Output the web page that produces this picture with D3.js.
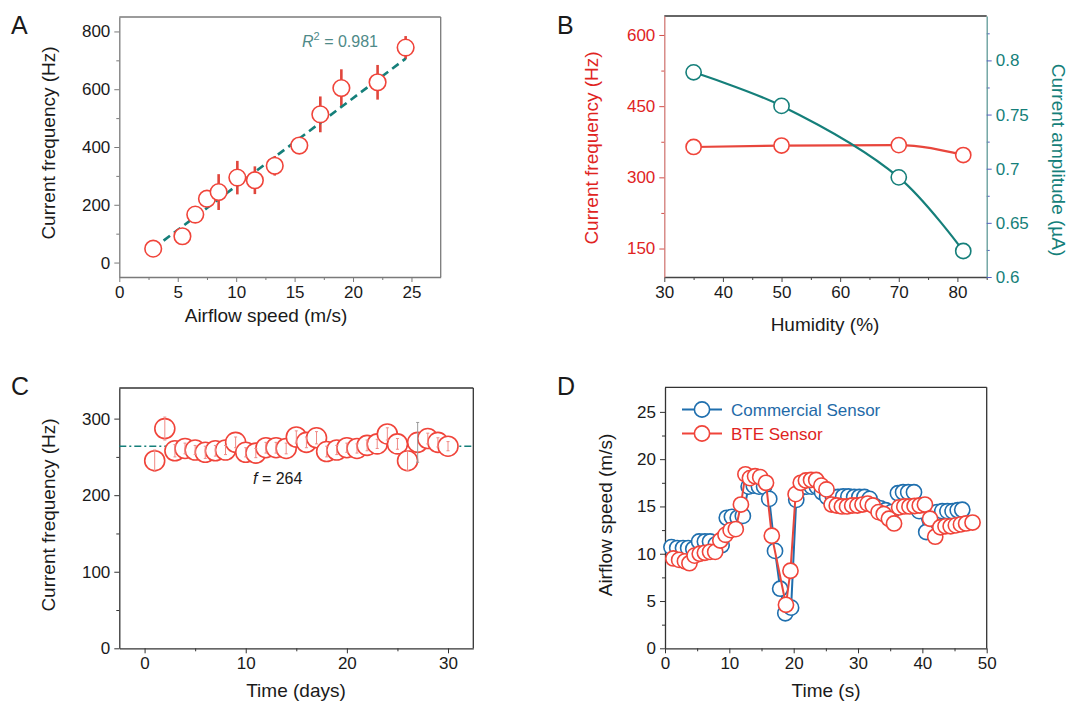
<!DOCTYPE html>
<html>
<head>
<meta charset="utf-8">
<script src="https://cdn.jsdelivr.net/npm/d3@7"></script>
<style>
	body { margin: 0; background: #fff; }
	svg text { font-family: "Liberation Sans", Arial, sans-serif; }
</style>
</head>
<body>
<svg id="fig" width="1072" height="711"></svg>
<script>
// ---- Panel A: frequency vs airflow speed
const speedA = [2.9, 5.4, 6.5, 7.5, 8.5, 10.1, 11.6, 13.3, 15.4, 17.2, 19.0, 22.1, 24.5];
const freqA  = [48, 91, 166, 221, 244, 294, 285, 335, 405, 513, 604, 624, 744];
const errA   = [12, 10, 12, 28, 62, 58, 48, 34, 26, 62, 65, 60, 40];
const fitA   = [[2.9, 49], [24.5, 706]];   // linear fit end points, R2 = 0.981

// ---- Panel B: humidity
const humidity = [35, 50, 70, 81];
const freqB    = [364, 367, 368, 347];
const ampB     = [0.789, 0.758, 0.692, 0.624];

// ---- Panel C: long term stability
const days  = [1,2,3,4,5,6,7,8,9,10,11,12,13,14,15,16,17,18,19,20,21,22,23,24,25,26,27,28,29,30];
const freqC = [245,287,258,261,259,256,258,259,269,256,255,262,262,261,276,269,275,257,259,262,261,265,267,280,267,245,269,274,269,264];
const errC  = [14,15,8,7,6,8,7,6,7,6,6,7,7,7,8,7,8,7,6,6,6,7,6,8,7,13,26,7,6,6];
const meanC = 264;

// ---- Panel D: airflow tracking
const timeCom  = [1.0,1.9,2.8,3.6,4.4,5.3,6.2,7.0,7.9,8.8,9.6,10.4,11.3,12.1,13.0,13.8,14.6,15.4,16.2,17.1,17.9,18.7,19.6,20.4,21.2,22.0,22.8,23.6,24.4,25.2,26.1,26.9,27.7,28.5,29.4,30.2,31.0,31.8,32.7,33.5,34.3,35.2,36.2,37.0,37.8,38.7,39.5,40.6,41.5,42.3,43.1,43.9,44.7,45.5,46.2];
const speedCom = [10.7,10.6,10.6,10.6,10.5,11.3,11.3,11.3,11.0,10.9,13.8,13.9,13.8,14.0,17.1,17.2,17.1,17.1,15.8,10.3,6.3,3.7,4.3,15.7,17.0,17.1,17.1,17.1,16.5,16.0,16.0,16.0,16.05,16.05,16.0,16.0,16.0,15.8,15.0,14.8,14.6,14.4,16.4,16.5,16.5,16.5,14.5,12.3,14.3,14.4,14.5,14.5,14.5,14.6,14.65];
const timeBte  = [1.3,2.2,3.1,3.8,4.6,5.4,6.2,7.0,7.8,8.6,9.4,10.2,11.0,11.8,12.5,13.2,14.0,14.8,15.7,16.6,18.8,19.5,20.3,21.1,21.9,22.7,23.5,24.3,25.1,25.9,26.7,27.5,28.3,29.1,29.9,30.7,31.5,32.3,33.2,34.0,34.8,35.6,36.4,37.2,38.0,38.8,39.6,40.4,41.2,42.0,42.8,43.6,44.4,45.2,46.0,46.8,47.8];
const speedBte = [9.5,9.35,9.2,9.0,9.8,10.0,10.1,10.2,10.2,11.4,12.0,12.5,12.6,15.2,18.4,18.0,18.2,18.1,17.5,11.9,4.6,8.2,16.3,17.5,17.75,17.8,17.8,17.2,16.8,15.2,15.1,15.0,15.0,15.1,15.1,15.2,15.3,15.1,14.4,14.2,13.7,13.2,14.9,15.0,15.0,15.05,15.1,15.2,13.7,11.8,12.8,12.9,12.9,13.0,13.1,13.2,13.3];
const legendD  = ["Commercial Sensor", "BTE Sensor"];

const red = "#f0443a", teal = "#157f7a", blue = "#1f6fae", ink = "#1a1a1a";
const svg = d3.select("#fig");

// draws major (labelled) and minor ticks for one side of a panel
function drawAxis(orient, scale, pos, majors, minors, st) {
	const mk = {bottom: d3.axisBottom, left: d3.axisLeft, right: d3.axisRight}[orient];
	const tr = orient === "bottom" ? `translate(0,${pos})` : `translate(${pos},0)`;
	const gm = svg.append("g").attr("transform", tr)
		.call(mk(scale).tickValues(minors).tickSize(3).tickFormat("").tickSizeOuter(0));
	gm.select(".domain").remove();
	gm.selectAll(".tick line").attr("stroke", st.tick || st.line);
	const g = svg.append("g").attr("transform", tr)
		.call(mk(scale).tickValues(majors).tickSize(5).tickSizeOuter(0).tickPadding(4)
			.tickFormat(st.fmt || (d => d)));
	g.select(".domain").attr("stroke", st.line).attr("stroke-width", 1.3);
	g.selectAll(".tick line").attr("stroke", st.tick || st.line);
	g.selectAll(".tick text").attr("fill", st.text || ink).attr("font-size", 17);
	return g;
}

function frameLine(x1, y1, x2, y2, color) {
	svg.append("line").attr("x1", x1).attr("y1", y1).attr("x2", x2).attr("y2", y2)
		.attr("stroke", color).attr("stroke-width", 1.3);
}

function title(x, y, txt, rot, color) {
	return svg.append("text").attr("transform", `translate(${x},${y}) rotate(${rot})`)
		.attr("text-anchor", "middle").attr("font-size", 19).attr("fill", color || ink).text(txt);
}

function circles(data, x, y, r, color) {
	svg.append("g").selectAll("circle").data(data).enter().append("circle")
		.attr("cx", d => x(d[0])).attr("cy", d => y(d[1])).attr("r", r)
		.attr("fill", "#fff").attr("stroke", color).attr("stroke-width", 1.6);
}

// ================= A =================
{
	const x = d3.scaleLinear().domain([0, 27.5]).range([119.3, 440.7]);
	const y = d3.scaleLinear().domain([-50, 850]).range([277, 17]);
	const gray = "#7a7a7a";
	frameLine(119.3, 17, 440.7, 17, gray);
	frameLine(440.7, 17, 440.7, 277, gray);
	drawAxis("bottom", x, 277, [0,5,10,15,20,25], [2.5,7.5,12.5,17.5,22.5], {line: gray});
	drawAxis("left", y, 119.3, [0,200,400,600,800], [100,300,500,700], {line: gray});

	svg.append("g").selectAll("line").data(speedA).enter().append("line")
		.attr("x1", d => x(d)).attr("x2", d => x(d))
		.attr("y1", (d, i) => y(freqA[i] - errA[i])).attr("y2", (d, i) => y(freqA[i] + errA[i]))
		.attr("stroke", "#e0463c").attr("stroke-width", 2.6);

	svg.append("path").datum(fitA)
		.attr("d", d3.line().x(d => x(d[0])).y(d => y(d[1])))
		.attr("fill", "none").attr("stroke", teal).attr("stroke-width", 2.6)
		.attr("stroke-dasharray", "8,5");

	circles(speedA.map((s, i) => [s, freqA[i]]), x, y, 8.3, red);

	const r2 = svg.append("text").attr("x", 302).attr("y", 47).attr("font-size", 16).attr("fill", "#4f8a88");
	r2.append("tspan").attr("font-style", "italic").text("R");
	r2.append("tspan").attr("font-size", 11).attr("dy", -7).text("2");
	r2.append("tspan").attr("dy", 7).text(" = 0.981");

	title(55, 143, "Current frequency (Hz)", -90);
	title(266, 322, "Airflow speed (m/s)", 0);
	svg.append("text").attr("x", 11).attr("y", 34).attr("font-size", 25).attr("fill", ink).text("A");
}

// ================= B =================
{
	const x = d3.scaleLinear().domain([30, 85]).range([664.3, 986.7]);
	const yL = d3.scaleLinear().domain([90, 640]).range([277, 16]);
	const yR = d3.scaleLinear().domain([0.6, 0.841]).range([277, 16]);
	frameLine(664.3, 16, 986.7, 16, "#333");
	drawAxis("bottom", x, 277, [30,40,50,60,70,80], [35,45,55,65,75,85], {line: "#444"});
	drawAxis("left", yL, 664.3, [150,300,450,600], [225,375,525], {line: "#d27a76", tick: "#d2504a", text: "#e0241f"});
	drawAxis("right", yR, 986.7, [0.6,0.65,0.7,0.75,0.8], [0.625,0.675,0.725,0.775,0.825],
		{line: "#5f9a98", tick: "#5560c0", text: teal, fmt: d => d});

	const ptsF = humidity.map((h, i) => [h, freqB[i]]);
	const ptsA = humidity.map((h, i) => [h, ampB[i]]);
	svg.append("path").datum(ptsF)
		.attr("d", d3.line().curve(d3.curveMonotoneX).x(d => x(d[0])).y(d => yL(d[1])))
		.attr("fill", "none").attr("stroke", "#e8463c").attr("stroke-width", 2.2);
	svg.append("path").datum(ptsA)
		.attr("d", d3.line().curve(d3.curveCatmullRom.alpha(0.5)).x(d => x(d[0])).y(d => yR(d[1])))
		.attr("fill", "none").attr("stroke", teal).attr("stroke-width", 2.2);
	circles(ptsF, x, yL, 7.6, red);
	circles(ptsA, x, yR, 7.6, teal);

	title(598, 148, "Current frequency (Hz)", -90, "#e0241f");
	title(1052, 160, "Current amplitude (\u00b5A)", 90, teal);
	title(825, 331, "Humidity (%)", 0);
	svg.append("text").attr("x", 557).attr("y", 34).attr("font-size", 25).attr("fill", ink).text("B");
}

// ================= C =================
{
	const x = d3.scaleLinear().domain([-2.5, 32.5]).range([119.3, 473.3]);
	const y = d3.scaleLinear().domain([0, 340]).range([648.3, 388]);
	frameLine(119.3, 388, 473.3, 388, "#333");
	frameLine(473.3, 388, 473.3, 648.3, "#333");
	drawAxis("bottom", x, 648.3, [0,10,20,30], [5,15,25], {line: "#333"});
	drawAxis("left", y, 119.3, [0,100,200,300], [50,150,250], {line: "#333"});

	svg.append("line").attr("x1", x(-2.5)).attr("x2", x(32.5)).attr("y1", y(meanC)).attr("y2", y(meanC))
		.attr("stroke", teal).attr("stroke-width", 1.5).attr("stroke-dasharray", "7,3,2,3");

	circles(days.map((d, i) => [d, freqC[i]]), x, y, 10, red);

	const eb = svg.append("g").attr("stroke-width", 1);
	days.forEach((d, i) => {
		const c = i === 26 ? "#9a9a9a" : "#f08a86";
		eb.append("line").attr("x1", x(d)).attr("x2", x(d))
			.attr("y1", y(freqC[i] - errC[i])).attr("y2", y(freqC[i] + errC[i])).attr("stroke", c);
		[freqC[i] - errC[i], freqC[i] + errC[i]].forEach(v => eb.append("line")
			.attr("x1", x(d) - 1.5).attr("x2", x(d) + 1.5).attr("y1", y(v)).attr("y2", y(v)).attr("stroke", c));
	});

	const ft = svg.append("text").attr("x", 253).attr("y", 484).attr("font-size", 16).attr("fill", ink);
	ft.append("tspan").attr("font-style", "italic").text("f");
	ft.append("tspan").text(" = " + meanC);

	title(55, 515, "Current frequency (Hz)", -90);
	title(296, 697, "Time (days)", 0);
	svg.append("text").attr("x", 11).attr("y", 395).attr("font-size", 25).attr("fill", ink).text("C");
}

// ================= D =================
{
	const x = d3.scaleLinear().domain([0, 50]).range([665, 986.7]);
	const y = d3.scaleLinear().domain([0, 27.6]).range([648.3, 387.3]);
	frameLine(665, 387.3, 986.7, 387.3, "#333");
	frameLine(986.7, 387.3, 986.7, 648.3, "#333");
	drawAxis("bottom", x, 648.3, [0,10,20,30,40,50], [5,15,25,35,45], {line: "#333"});
	drawAxis("left", y, 665, [0,5,10,15,20,25], [2.5,7.5,12.5,17.5,22.5], {line: "#333"});

	const com = timeCom.map((t, i) => [t, speedCom[i]]);
	const bte = timeBte.map((t, i) => [t, speedBte[i]]);
	const ln = d3.line().x(d => x(d[0])).y(d => y(d[1]));
	svg.append("path").datum(com).attr("d", ln).attr("fill", "none").attr("stroke", blue).attr("stroke-width", 2);
	circles(com, x, y, 7.6, blue);
	svg.append("path").datum(bte).attr("d", ln).attr("fill", "none").attr("stroke", "#e8463c").attr("stroke-width", 2);
	circles(bte, x, y, 7.6, red);

	const lg = svg.append("g");
	[blue, red].forEach((c, i) => {
		const cy = 409.5 + i * 24;
		lg.append("line").attr("x1", 682).attr("x2", 722).attr("y1", cy).attr("y2", cy).attr("stroke", c).attr("stroke-width", 2);
		lg.append("circle").attr("cx", 702).attr("cy", cy).attr("r", 7.6).attr("fill", "#fff").attr("stroke", c).attr("stroke-width", 1.6);
		lg.append("text").attr("x", 731).attr("y", cy + 6).attr("font-size", 17)
			.attr("fill", i === 0 ? "#1f6aa8" : "#e0241f").text(legendD[i]);
	});

	title(612, 515, "Airflow speed (m/s)", -90);
	title(826, 697, "Time (s)", 0);
	svg.append("text").attr("x", 557).attr("y", 395).attr("font-size", 25).attr("fill", ink).text("D");
}
</script>
</body>
</html>
